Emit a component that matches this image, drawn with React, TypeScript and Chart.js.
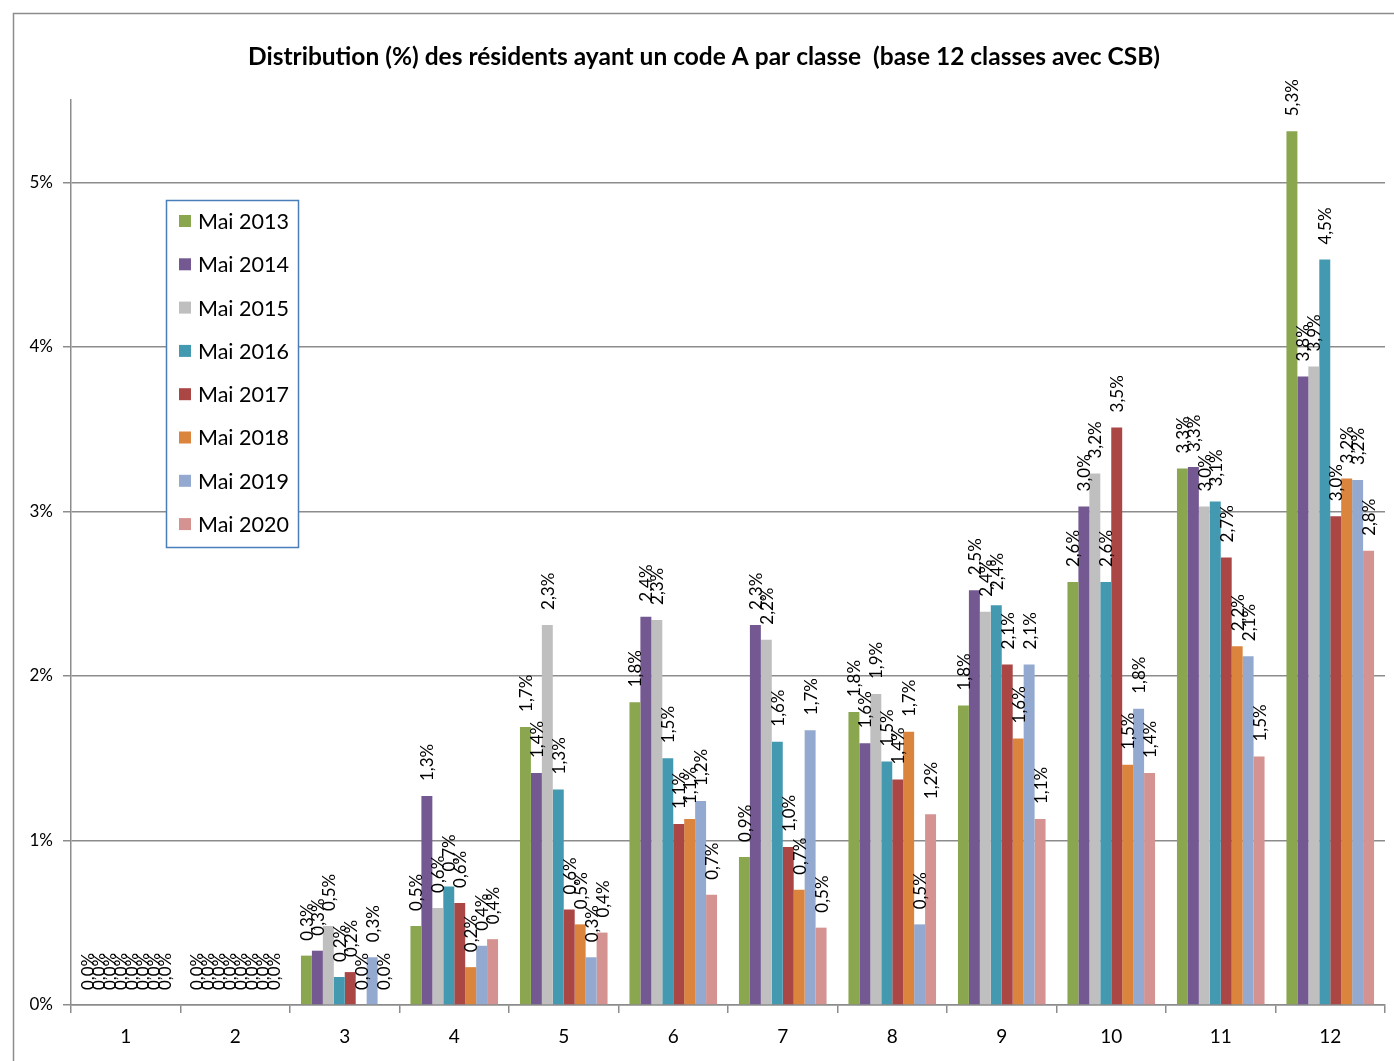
import React, { useEffect, useRef } from "react";
import { Chart, registerables } from "chart.js";

Chart.register(...registerables);

const categories = ["1", "2", "3", "4", "5", "6", "7", "8", "9", "10", "11", "12"];
const seriesLabels = ["Mai 2013", "Mai 2014", "Mai 2015", "Mai 2016", "Mai 2017", "Mai 2018", "Mai 2019", "Mai 2020"];
const mai2013 = [0, 0, 0.30, 0.48, 1.69, 1.84, 0.90, 1.78, 1.82, 2.57, 3.26, 5.31];
const mai2014 = [0, 0, 0.33, 1.27, 1.41, 2.36, 2.31, 1.59, 2.52, 3.03, 3.27, 3.82];
const mai2015 = [0, 0, 0.48, 0.59, 2.31, 2.34, 2.22, 1.89, 2.39, 3.23, 3.03, 3.88];
const mai2016 = [0, 0, 0.17, 0.72, 1.31, 1.50, 1.60, 1.48, 2.43, 2.57, 3.06, 4.53];
const mai2017 = [0, 0, 0.20, 0.62, 0.58, 1.10, 0.96, 1.37, 2.07, 3.51, 2.72, 2.97];
const mai2018 = [0, 0, 0, 0.23, 0.49, 1.13, 0.70, 1.66, 1.62, 1.46, 2.18, 3.20];
const mai2019 = [0, 0, 0.29, 0.36, 0.29, 1.24, 1.67, 0.49, 2.07, 1.80, 2.12, 3.19];
const mai2020 = [0, 0, 0, 0.40, 0.44, 0.67, 0.47, 1.16, 1.13, 1.41, 1.51, 2.76];
const yTicks = [0, 1, 2, 3, 4, 5];

const seriesValues = [mai2013, mai2014, mai2015, mai2016, mai2017, mai2018, mai2019, mai2020];
const colors = ["#8aa64e", "#735891", "#bfbfbf", "#4299b0", "#aa4644", "#db843d", "#93a9cf", "#d49291"];

const FONT = "Lato, 'Open Sans', sans-serif";
const GRID = "#8c8c8c";

const fmt = (v: number) => v.toFixed(1).replace(".", ",") + "%";

const framePlugin = {
  id: "frame",
  beforeDraw(chart: any) {
    const ctx = chart.ctx;
    ctx.save();
    ctx.fillStyle = "#ffffff";
    ctx.fillRect(0, 0, chart.width, chart.height);
    ctx.strokeStyle = "#8c8c8c";
    ctx.lineWidth = 1.5;
    ctx.strokeRect(13.5, 13.5, chart.width + 20, chart.height + 20);
    ctx.restore();
  },
};

const labelPlugin = {
  id: "barLabels",
  afterDatasetsDraw(chart: any) {
    const ctx = chart.ctx;
    ctx.save();
    ctx.font = `17px ${FONT}`;
    ctx.fillStyle = "#000000";
    ctx.textAlign = "left";
    ctx.textBaseline = "middle";
    chart.data.datasets.forEach((ds: any, di: number) => {
      const meta = chart.getDatasetMeta(di);
      meta.data.forEach((el: any, i: number) => {
        const v = ds.data[i];
        ctx.save();
        ctx.translate(el.x, el.y - 15);
        ctx.rotate(-Math.PI / 2);
        ctx.fillText(fmt(v), 0, 1);
        ctx.restore();
      });
    });
    ctx.restore();
  },
};

const legendPlugin = {
  id: "boxLegend",
  afterDraw(chart: any) {
    const ctx = chart.ctx;
    const x0 = 166, y0 = 200, w = 132, h = 347;
    ctx.save();
    ctx.fillStyle = "#ffffff";
    ctx.fillRect(x0, y0, w, h);
    ctx.strokeStyle = "#4a7ebb";
    ctx.lineWidth = 1.5;
    ctx.strokeRect(x0 + 0.5, y0 + 0.5, w, h);
    ctx.font = `21.5px ${FONT}`;
    ctx.textBaseline = "middle";
    ctx.textAlign = "left";
    chart.data.datasets.forEach((ds: any, i: number) => {
      const cy = 221 + i * 43.3;
      ctx.fillStyle = ds.backgroundColor;
      ctx.fillRect(179, cy - 6, 12, 12);
      ctx.fillStyle = "#000000";
      ctx.fillText(ds.label, 198, cy + 1);
    });
    ctx.restore();
  },
};

export default function App() {
  const ref = useRef<HTMLCanvasElement>(null);
  useEffect(() => {
    if (!ref.current) return;
    const chart = new Chart(ref.current, {
      type: "bar",
      data: {
        labels: categories,
        datasets: seriesValues.map((vals, i) => ({
          label: seriesLabels[i],
          data: vals,
          backgroundColor: colors[i],
          borderWidth: 0,
          categoryPercentage: 0.8,
          barPercentage: 1,
        })),
      },
      options: {
        animation: false,
        responsive: true,
        maintainAspectRatio: false,
        layout: { padding: { left: 23, right: 9, top: 0, bottom: 0 } },
        plugins: {
          legend: { display: false },
          tooltip: { enabled: false },
          title: {
            display: true,
            text: "Distribution (%) des résidents ayant un code A par classe  (base 12 classes avec CSB)",
            color: "#000000",
            font: { family: FONT, size: 24.5, weight: "bold" },
            padding: { top: 42, bottom: 28.6 },
          },
        },
        scales: {
          x: {
            grid: {
              offset: true,
              drawOnChartArea: false,
              drawTicks: true,
              tickLength: 8,
              color: GRID,
              lineWidth: 1.5,
            },
            border: { display: true, color: GRID, width: 1.5 },
            ticks: {
              color: "#000000",
              font: { family: FONT, size: 19 },
              padding: 12,
              maxRotation: 0,
            },
            afterFit: (s: any) => {
              s.height = 56;
            },
          },
          y: {
            min: 0,
            max: 5.5,
            grid: { color: GRID, lineWidth: 1.5, tickLength: 8 },
            border: { display: true, color: GRID, width: 1.5 },
            ticks: {
              stepSize: 1,
              color: "#000000",
              font: { family: FONT, size: 17 },
              padding: 10,
              callback: (v: any) => `${v}%`,
            },
            afterBuildTicks: (axis: any) => {
              axis.ticks = yTicks.map((v) => ({ value: v }));
            },
            afterFit: (s: any) => {
              s.width = 48;
            },
          },
        },
      },
      plugins: [framePlugin, labelPlugin, legendPlugin],
    } as any);
    return () => chart.destroy();
  }, []);
  return (
    <div style={{ position: "absolute", left: 0, top: 0, width: 1394, height: 1061 }}>
      <canvas ref={ref} />
    </div>
  );
}
